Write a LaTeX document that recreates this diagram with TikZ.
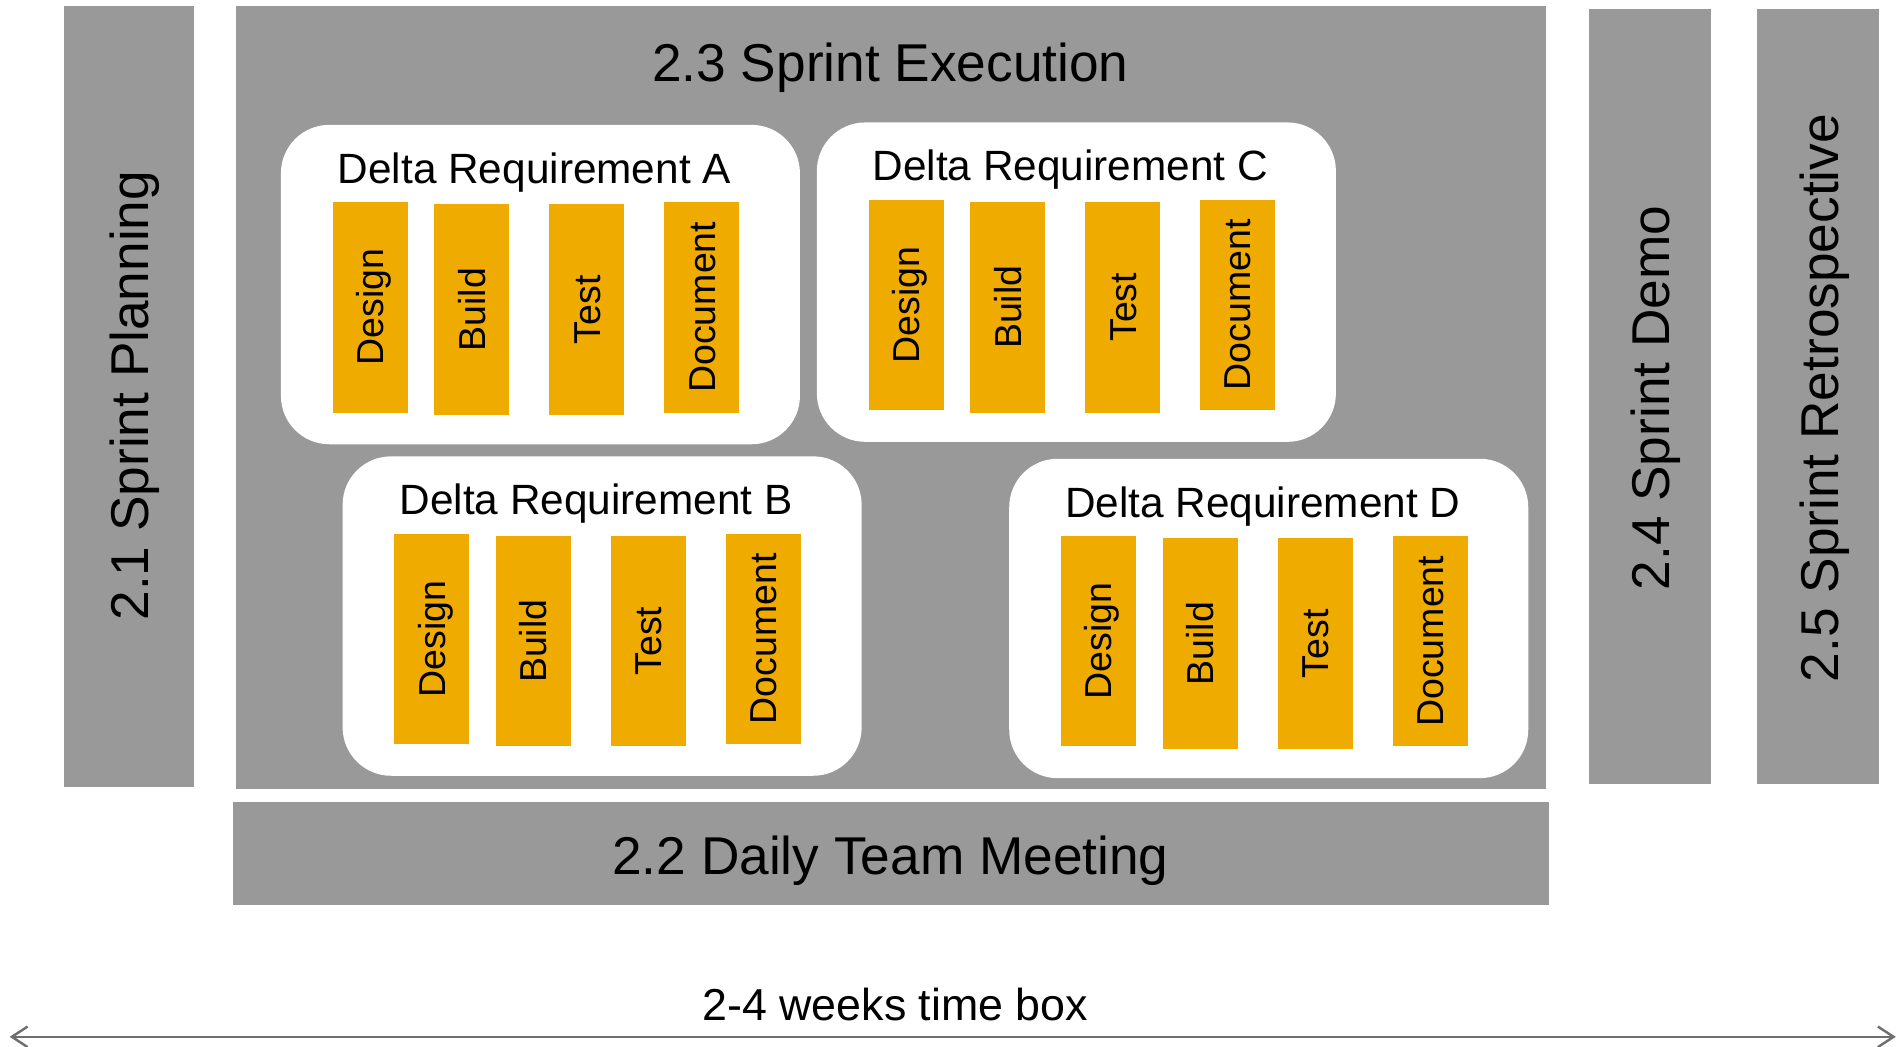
\documentclass[tikz,border=0pt]{standalone}
\usepackage{fontspec}
\setmainfont{Liberation Sans}
\usetikzlibrary{arrows.meta}

\definecolor{phasegrey}{HTML}{999999}
\definecolor{taskorange}{HTML}{F0AB00}
\definecolor{arrowgrey}{HTML}{6E6E6E}

\tikzset{
  phase/.style={fill=phasegrey, draw=none, inner sep=0pt, anchor=north west},
  phasetext/.style={font=\fontsize{44}{52}\selectfont, text height=31.5pt, text depth=0pt, inner sep=0pt},
  reqbox/.style={fill=white, draw=none, rounded corners=40pt, inner sep=0pt,
                 minimum width=429pt, minimum height=264pt, anchor=north west},
  reqtitle/.style={font=\fontsize{35}{42}\selectfont, text height=25pt, text depth=0pt, inner sep=0pt},
  task/.style={fill=taskorange, draw=none, rotate=90, inner sep=0pt,
               minimum width=174pt, minimum height=62pt,
               font=\fontsize{31}{37}\selectfont, text height=22pt, text depth=0pt},
  timetext/.style={font=\fontsize{37}{44}\selectfont, text height=26.5pt, text depth=0pt, inner sep=0pt},
  timeline/.style={draw=arrowgrey, line width=2pt,
                   {Straight Barb[length=13pt,width=17pt]}-{Straight Barb[length=13pt,width=17pt]}},
}

% One requirement card: #1 name, #2/#3 top-left corner, #4 letter
\newcommand\deltareq[4]{%
  \node[reqbox] (#1) at (#2,#3) {};
  \node[reqtitle] (#1-title) at ([shift={(-5,36)}]#1.north) {Delta Requirement #4};
  \node[task] (#1-design)   at ([shift={(74,151)}]#1.north west)  {Design};
  \node[task] (#1-build)    at ([shift={(158,153)}]#1.north west) {Build};
  \node[task] (#1-test)     at ([shift={(253,153)}]#1.north west) {Test};
  \node[task] (#1-document) at ([shift={(348,151)}]#1.north west) {Document};
}

\begin{document}
\begin{tikzpicture}[x=1pt, y=-1pt]
  \useasboundingbox (0,0) rectangle (1568,865);

  % phase columns and bands
  \node[phase, minimum width=107pt,  minimum height=645pt] (plan)  at (53,5)    {};
  \node[phase, minimum width=1083pt, minimum height=647pt] (exec)  at (195,5)   {};
  \node[phase, minimum width=1088pt, minimum height=85pt]  (daily) at (192,663) {};
  \node[phase, minimum width=101pt,  minimum height=641pt] (demo)  at (1313,7)  {};
  \node[phase, minimum width=101pt,  minimum height=641pt] (retro) at (1452,7)  {};

  \node[phasetext, rotate=90] (plan-label)  at (107,327)  {2.1 Sprint Planning};
  \node[phasetext]            (exec-label)  at (736,52)   {2.3 Sprint Execution};
  \node[phasetext]            (daily-label) at (736,707)  {2.2 Daily Team Meeting};
  \node[phasetext, rotate=90] (demo-label)  at (1364,329) {2.4 Sprint Demo};
  \node[phasetext, rotate=90] (retro-label) at (1504,329) {2.5 Sprint Retrospective};

  % requirement cards inside the execution phase
  \deltareq{reqA}{232}{103}{A}
  \deltareq{reqC}{675}{101}{C}
  \deltareq{reqB}{283}{377}{B}
  \deltareq{reqD}{834}{379}{D}

  % time box axis
  \node[timetext] (timebox) at (740,830) {2-4 weeks time box};
  \coordinate (tstart) at (8,857);
  \coordinate (tend)   at (1567,857);
  \draw[timeline] (tstart) -- (tend);
\end{tikzpicture}
\end{document}
